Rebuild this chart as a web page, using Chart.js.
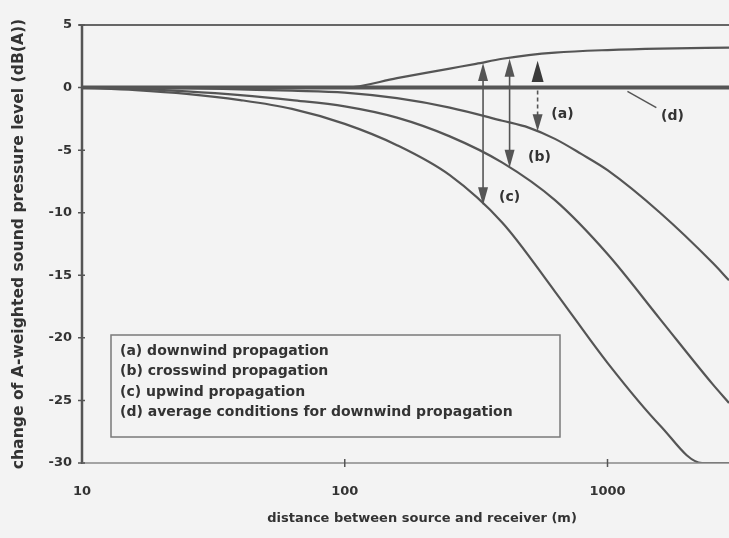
<!DOCTYPE html>
<html><head><meta charset="utf-8">
<script src="https://cdn.jsdelivr.net/npm/chart.js@4"></script>
<style>html,body{margin:0;padding:0;background:#f3f3f3;}canvas{display:block}</style>
</head><body>
<canvas id="c" width="729" height="538"></canvas>
<script>
// ---- data (distance in m, level change in dB(A)) ----
const distUpper = [10, 100, 158, 251, 316, 398, 501, 631, 1000, 1585, 2900];
const levelUpper = [0, 0, 0.75, 1.52, 1.9, 2.3, 2.6, 2.8, 3.0, 3.12, 3.2];
const distAverage = [10, 2900];
const levelAverage = [0, 0];
const distCurveA = [10, 25, 40, 63, 100, 158, 251, 398, 501, 631, 794, 1000, 1585, 2512, 2900];
const levelCurveA = [0, -0.05, -0.15, -0.25, -0.4, -0.85, -1.6, -2.65, -3.2, -4.1, -5.3, -6.6, -10.0, -14.0, -15.4];
const distCurveB = [10, 16, 25, 40, 63, 100, 158, 251, 398, 631, 1000, 1585, 2512, 2900];
const levelCurveB = [0, -0.1, -0.3, -0.6, -1.0, -1.5, -2.4, -3.9, -6.0, -9.0, -13.3, -18.5, -23.7, -25.2];
const distCurveC = [10, 16, 25, 40, 63, 100, 158, 251, 398, 631, 1000, 1585, 2291, 2900];
const levelCurveC = [0, -0.2, -0.5, -1.0, -1.7, -2.9, -4.6, -7.0, -10.8, -16.3, -22.0, -27.0, -30, -30];

const xTickValues = [10, 100, 1000];
const yTickValues = [5, 0, -5, -10, -15, -20, -25, -30];

// arrows: distance, top tip, bottom tip
const arrowDist = [542, 424, 336];
const arrowTop = [2.15, 2.3, 1.97];
const arrowBottom = [-3.5, -6.4, -9.4];
// curve labels
const markText = ['(a)', '(b)', '(c)', '(d)'];
const markDist = [674, 551, 424, 1766];
const markLevel = [-2.15, -5.6, -8.8, -2.3];
const leaderDist = [1191, 1534];
const leaderLevel = [-0.3, -1.6];

const legendLines = [
  '(a) downwind propagation',
  '(b) crosswind propagation',
  '(c) upwind propagation',
  '(d) average conditions for downwind propagation'
];
const xTitle = 'distance between source and receiver (m)';
const yTitle = 'change of A-weighted sound pressure level (dB(A))';

const pts = (xs, ys) => xs.map((v, i) => ({x: v, y: ys[i]}));
const LINE = '#555555';
const FONT = 'DejaVu Sans';

const deco = {
  id: 'deco',
  beforeDraw(chart) {
    const c = chart.ctx;
    c.save(); c.fillStyle = '#f3f3f3'; c.fillRect(0, 0, chart.width, chart.height); c.restore();
  },
  afterDraw(chart) {
    const {ctx, chartArea: a, scales: {x, y}} = chart;
    ctx.save();
    // axes
    ctx.strokeStyle = '#666'; ctx.lineWidth = 2;
    ctx.beginPath(); ctx.moveTo(a.left - 3, a.top); ctx.lineTo(a.right, a.top); ctx.stroke();
    ctx.strokeStyle = '#555'; ctx.lineWidth = 2.5;
    ctx.beginPath(); ctx.moveTo(a.left, a.top); ctx.lineTo(a.left, a.bottom + 1); ctx.stroke();
    ctx.strokeStyle = '#888'; ctx.lineWidth = 1.5;
    ctx.beginPath(); ctx.moveTo(a.left, a.bottom); ctx.lineTo(a.right, a.bottom); ctx.stroke();
    // tick marks
    ctx.strokeStyle = '#555'; ctx.lineWidth = 1.5;
    ctx.beginPath();
    yTickValues.forEach(v => { const py = y.getPixelForValue(v); ctx.moveTo(a.left - 4, py); ctx.lineTo(a.left + 3, py); });
    xTickValues.slice(1).forEach(v => { const px = x.getPixelForValue(v); ctx.moveTo(px, a.bottom - 4); ctx.lineTo(px, a.bottom + 4); });
    ctx.stroke();

    // arrows
    const head = (px, tip, dir, w, len, color) => {
      ctx.fillStyle = color;
      ctx.beginPath();
      ctx.moveTo(px, tip);
      ctx.lineTo(px - w / 2, tip - dir * len);
      ctx.lineTo(px + w / 2, tip - dir * len);
      ctx.closePath(); ctx.fill();
    };
    arrowDist.forEach((d, i) => {
      const px = x.getPixelForValue(d);
      const t = y.getPixelForValue(arrowTop[i]);
      const b = y.getPixelForValue(arrowBottom[i]);
      ctx.strokeStyle = LINE; ctx.lineWidth = 1.6;
      if (i === 0) {
        const z = y.getPixelForValue(0);
        const base = y.getPixelForValue(0.45);
        head(px, t, -1, 12, base - t, '#3a3a3a');
        ctx.setLineDash([4, 3]);
        ctx.beginPath(); ctx.moveTo(px, z + 3); ctx.lineTo(px, b - 10); ctx.stroke();
        ctx.setLineDash([]);
        head(px, b, 1, 10, 17, LINE);
      } else {
        ctx.beginPath(); ctx.moveTo(px, t + 10); ctx.lineTo(px, b - 10); ctx.stroke();
        head(px, t, -1, 10, 18, LINE);
        head(px, b, 1, 10, 18, LINE);
      }
    });
    // leader for (d)
    ctx.strokeStyle = LINE; ctx.lineWidth = 1.5;
    ctx.beginPath();
    ctx.moveTo(x.getPixelForValue(leaderDist[0]), y.getPixelForValue(leaderLevel[0]));
    ctx.lineTo(x.getPixelForValue(leaderDist[1]), y.getPixelForValue(leaderLevel[1]));
    ctx.stroke();
    // labels
    ctx.fillStyle = '#333';
    ctx.font = 'bold 14px "' + FONT + '"';
    ctx.textAlign = 'center'; ctx.textBaseline = 'middle';
    markText.forEach((s, i) => ctx.fillText(s, x.getPixelForValue(markDist[i]), y.getPixelForValue(markLevel[i])));

    // legend box
    const bx = a.left + 29, by = a.top + 310, bw = 449, bh = 102;
    ctx.strokeStyle = '#7a7a7a'; ctx.lineWidth = 1.5;
    ctx.strokeRect(bx, by, bw, bh);
    ctx.textAlign = 'left';
    legendLines.forEach((s, i) => ctx.fillText(s, bx + 9, by + 16 + i * 20.6));

    // x title
    ctx.font = 'bold 13px "' + FONT + '"';
    ctx.textAlign = 'center';
    ctx.fillText(xTitle, 422, chart.height - 19);
    ctx.restore();
  }
};

const ds = (label, data, width) => ({
  label, data, borderColor: LINE, borderWidth: width, pointRadius: 0,
  fill: false, cubicInterpolationMode: 'monotone'
});

new Chart(document.getElementById('c'), {
  type: 'line',
  data: {
    datasets: [
      ds('upper', pts(distUpper, levelUpper), 2.2),
      ds('(d) average conditions for downwind propagation', pts(distAverage, levelAverage), 4),
      ds('lower 1', pts(distCurveA, levelCurveA), 2.2),
      ds('lower 2', pts(distCurveB, levelCurveB), 2.2),
      ds('lower 3', pts(distCurveC, levelCurveC), 2.2)
    ]
  },
  options: {
    responsive: false, animation: false, devicePixelRatio: 1,
    layout: {padding: {top: 25, right: 0, left: 0, bottom: 0}},
    plugins: {legend: {display: false}, tooltip: {enabled: false}},
    scales: {
      x: {
        type: 'logarithmic', min: 10, max: 2900,
        grid: {display: false, drawTicks: false}, border: {display: false},
        afterBuildTicks: s => { s.ticks = xTickValues.map(v => ({value: v})); },
        afterFit: s => { s.height = 75; },
        ticks: {autoSkip: false, maxRotation: 0, padding: 21, color: '#333',
          font: {family: FONT, size: 13, weight: 'bold'}, callback: v => String(v)}
      },
      y: {
        min: -30, max: 5,
        grid: {display: false, drawTicks: false}, border: {display: false},
        afterBuildTicks: s => { s.ticks = yTickValues.map(v => ({value: v})); },
        afterFit: s => { s.width = 82; },
        ticks: {padding: 10, color: '#333', font: {family: FONT, size: 13, weight: 'bold'}},
        title: {display: true, text: yTitle, color: '#333', padding: {top: 10, bottom: 0},
          font: {family: FONT, size: 15.6, weight: 'bold'}}
      }
    }
  },
  plugins: [deco]
});
</script>
</body></html>
